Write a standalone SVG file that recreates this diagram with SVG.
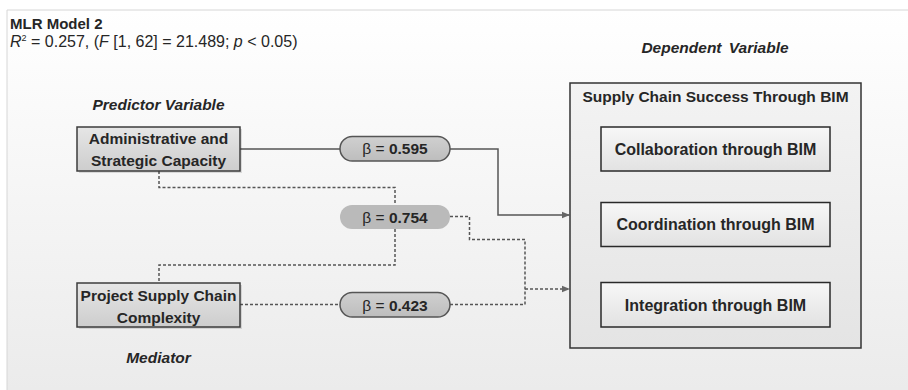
<svg xmlns="http://www.w3.org/2000/svg" width="908" height="390" viewBox="0 0 908 390">
  <defs>
    <linearGradient id="bg" x1="0" y1="0" x2="0" y2="1">
      <stop offset="0" stop-color="#ffffff"/>
      <stop offset="1" stop-color="#ebebeb"/>
    </linearGradient>
    <linearGradient id="gBox" x1="0" y1="0" x2="0" y2="1">
      <stop offset="0" stop-color="#e6e6e6"/>
      <stop offset="1" stop-color="#cdcdcd"/>
    </linearGradient>
    <linearGradient id="gOuter" x1="0" y1="0" x2="0" y2="1">
      <stop offset="0" stop-color="#f3f3f3"/>
      <stop offset="1" stop-color="#e4e4e4"/>
    </linearGradient>
    <linearGradient id="gInner" x1="0" y1="0" x2="0" y2="1">
      <stop offset="0" stop-color="#f7f7f7"/>
      <stop offset="1" stop-color="#e2e2e2"/>
    </linearGradient>
    <linearGradient id="gPill" x1="0" y1="0" x2="0" y2="1">
      <stop offset="0" stop-color="#d0d0d0"/>
      <stop offset="1" stop-color="#bdbdbd"/>
    </linearGradient>
    <marker id="arrow" viewBox="0 0 8 8" refX="7" refY="4" markerWidth="8" markerHeight="8" markerUnits="userSpaceOnUse" orient="auto">
      <path d="M0,0.8 L8,4 L0,7.2 Z" fill="#666666"/>
    </marker>
  </defs>
  <style>
    text { font-family: "Liberation Sans", Arial, sans-serif; fill: #262626; }
    .title { font-size: 15px; font-weight: bold; }
    .stat { font-size: 16px; }
    .lbl { font-size: 15.5px; font-weight: bold; font-style: italic; }
    .node { font-size: 15.5px; font-weight: bold; }
    .inner { font-size: 16px; font-weight: bold; }
    .beta { font-size: 15.5px; }
    .box { fill: url(#gBox); stroke: #3c3c3c; stroke-width: 1.5; }
    .shadow { fill: #000000; opacity: 0.12; }
    .outer { fill: url(#gOuter); stroke: #333333; stroke-width: 1.5; }
    .ibox { fill: url(#gInner); stroke: #2a2a2a; stroke-width: 1.5; }
    .pill { fill: url(#gPill); stroke: #555555; stroke-width: 1.5; }
    .pill2 { fill: #bababa; }
    .solid { fill: none; stroke: #555555; stroke-width: 1.5; }
    .dash { fill: none; stroke: #555555; stroke-width: 1.5; stroke-dasharray: 3 2; }
  </style>

  <!-- page frame -->
  <rect x="7" y="10" width="901" height="380" fill="url(#bg)"/>
  <path d="M7,390 V10 H908" fill="none" stroke="#d6d6d6" stroke-width="1"/>

  <!-- heading -->
  <g id="heading">
    <text class="title" x="10" y="29">MLR Model 2</text>
    <text class="stat" x="10" y="47"><tspan font-style="italic">R</tspan><tspan font-size="9" dy="-6">2</tspan><tspan dy="6"> = 0.257, (</tspan><tspan font-style="italic">F</tspan><tspan> [1, 62] = 21.489; </tspan><tspan font-style="italic">p</tspan><tspan> &lt; 0.05)</tspan></text>
  </g>

  <!-- role labels -->
  <g id="labels">
    <text class="lbl" x="715" y="53" text-anchor="middle" word-spacing="3">Dependent Variable</text>
    <text class="lbl" x="158.5" y="110" text-anchor="middle">Predictor Variable</text>
    <text class="lbl" x="158.5" y="363" text-anchor="middle">Mediator</text>
  </g>

  <!-- connectors -->
  <g id="connectors">
    <path class="solid" d="M240,149 H340"/>
    <path class="solid" d="M450,149 H498 V215 H569" marker-end="url(#arrow)"/>
    <path class="dash" d="M159,171 V187.5 H395 V205"/>
    <path class="dash" d="M395,229 V265 H159 V283"/>
    <path class="dash" d="M450,216.5 H469.5 V239.5 H525 V304.5"/>
    <path class="dash" d="M240,304.5 H340"/>
    <path class="dash" d="M450,304.5 H525"/>
    <path class="dash" d="M525,289 H569" marker-end="url(#arrow)"/>
  </g>

  <!-- predictor -->
  <g id="predictor">
    <rect class="shadow" x="79" y="129" width="163" height="44"/>
    <rect class="box" x="77" y="127" width="163" height="44"/>
    <text class="node" x="158.5" y="144" text-anchor="middle" font-size="16">Administrative and</text>
    <text class="node" x="158.5" y="166" text-anchor="middle" font-size="16">Strategic Capacity</text>
  </g>

  <!-- mediator -->
  <g id="mediator">
    <rect class="shadow" x="79" y="285" width="163" height="44"/>
    <rect class="box" x="77" y="283" width="163" height="44"/>
    <text class="node" x="158.5" y="301" text-anchor="middle">Project Supply Chain</text>
    <text class="node" x="158.5" y="322.5" text-anchor="middle">Complexity</text>
  </g>

  <!-- path coefficients -->
  <g id="beta-direct">
    <rect class="pill" x="340" y="136.5" width="110" height="24.5" rx="12.25"/>
    <text class="beta" x="395" y="154" text-anchor="middle">β = <tspan font-weight="bold">0.595</tspan></text>
  </g>
  <g id="beta-mediated">
    <rect class="pill2" x="340" y="205" width="110" height="24" rx="12"/>
    <text class="beta" x="395" y="223" text-anchor="middle">β = <tspan font-weight="bold">0.754</tspan></text>
  </g>
  <g id="beta-mediator">
    <rect class="pill" x="340" y="292.5" width="110" height="24.5" rx="12.25"/>
    <text class="beta" x="395" y="310.5" text-anchor="middle">β = <tspan font-weight="bold">0.423</tspan></text>
  </g>

  <!-- dependent variable -->
  <g id="dependent">
    <rect class="outer" x="570" y="83" width="291" height="265"/>
    <text class="node" x="715.5" y="102" text-anchor="middle">Supply Chain Success Through BIM</text>
  </g>
  <g id="collaboration">
    <rect class="ibox" x="601" y="127" width="229" height="44"/>
    <text class="inner" x="715.5" y="155" text-anchor="middle">Collaboration through BIM</text>
  </g>
  <g id="coordination">
    <rect class="ibox" x="601" y="202.5" width="229" height="44"/>
    <text class="inner" x="715.5" y="230" text-anchor="middle">Coordination through BIM</text>
  </g>
  <g id="integration">
    <rect class="ibox" x="601" y="282.5" width="229" height="44.5"/>
    <text class="inner" x="715.5" y="311" text-anchor="middle">Integration through BIM</text>
  </g>
</svg>
